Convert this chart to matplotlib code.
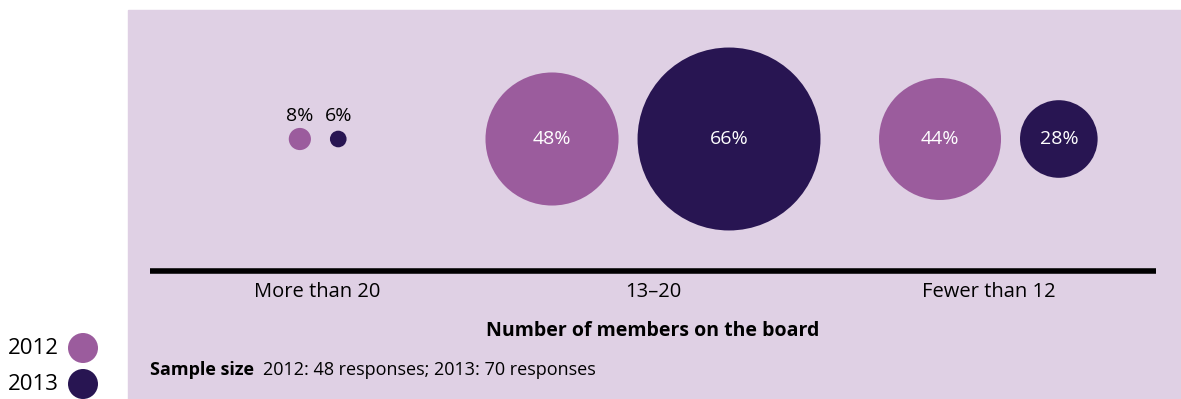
import matplotlib
matplotlib.use("Agg")
from matplotlib import pyplot as plt
from matplotlib.patches import Circle, Rectangle

categories = ["More than 20", "13–20", "Fewer than 12"]
years = ["2012", "2013"]
pct_2012 = [8, 48, 44]
pct_2013 = [6, 66, 28]
sample_2012 = 48
sample_2013 = 70

cor_fundo = "#dfd0e4"
cores = {"2012": "#9b5c9d", "2013": "#281552"}
fonte = ["Open Sans", "DejaVu Sans"]

plt.rcParams["font.family"] = fonte

W, H = 1181, 399
fig = plt.figure(figsize=(W / 100, H / 100), dpi=100)
ax = fig.add_axes([0, 0, 1, 1])
ax.set_xlim(0, W)
ax.set_ylim(H, 0)
ax.set_aspect("equal")
ax.axis("off")

# painel de fundo
ax.add_patch(Rectangle((128, 10), W - 128, H - 10, color=cor_fundo, zorder=0))

# eixo base e faixas das categorias
x0, x1 = 150, 1156
y_base = 271
ax.plot([x0, x1], [y_base, y_base], color="black", lw=4, solid_capstyle="butt", zorder=2)

largura = (x1 - x0) / len(categories)
centros = [x0 + (i + 0.5) * largura for i in range(len(categories))]

escala = 1.386  # raio em px por ponto percentual
folga = 19
y_bolha = 139

for c, cat, v1, v2 in zip(centros, categories, pct_2012, pct_2013):
    r1, r2 = v1 * escala, v2 * escala
    total = 2 * r1 + folga + 2 * r2
    xa = c - total / 2 + r1
    xb = c + total / 2 - r2
    for x, r, v, ano in [(xa, r1, v1, "2012"), (xb, r2, v2, "2013")]:
        ax.add_patch(Circle((x, y_bolha), r, color=cores[ano], lw=0, zorder=3))
        if r > 20:
            ax.text(x, y_bolha, f"{v}%", color="white", fontsize=14,
                    ha="center", va="center", zorder=4)
        else:
            ax.text(x, y_bolha - 23, f"{v}%", color="black", fontsize=14,
                    ha="center", va="center", zorder=4)
    ax.text(c, 292, cat, fontsize=14.5, ha="center", va="center")

ax.text((x0 + x1) / 2, 331, "Number of members on the board", fontsize=14,
        fontweight="bold", ha="center", va="center")

# nota da amostra
t = ax.text(x0, 370, "Sample size", fontsize=13, fontweight="bold",
            ha="left", va="center")
fig.canvas.draw()
bb = t.get_window_extent().transformed(ax.transData.inverted())
ax.text(bb.x1 + 9, 370,
        f"2012: {sample_2012} responses; 2013: {sample_2013} responses",
        fontsize=13, ha="left", va="center")

# legenda
for i, ano in enumerate(years):
    y = 348 + i * 36
    ax.add_patch(Circle((83, y), 15, color=cores[ano], lw=0, zorder=3))
    ax.text(59, y, ano, fontsize=16, ha="right", va="center")

fig.savefig("out.png", dpi=100)
